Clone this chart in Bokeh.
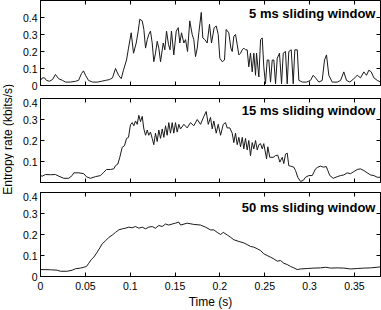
from math import pi
from bokeh.plotting import figure
from bokeh.layouts import row, column
from bokeh.models import Range1d, LinearAxis, FixedTicker, CustomJSTickFormatter, Label
from bokeh.embed import file_html
from bokeh.resources import INLINE

# ---- data ----
t1 = [0, 0.0022, 0.0045, 0.0067, 0.0100, 0.0134, 0.0167, 0.0201, 0.0245, 0.0279,
      0.0334, 0.0390, 0.0424, 0.0457, 0.0479, 0.0502, 0.0535, 0.0580, 0.0635, 0.0680,
      0.0725, 0.0769, 0.0803, 0.0836, 0.0870, 0.0900, 0.0925, 0.0959, 0.0981, 0.1011,
      0.1037, 0.1067, 0.1089, 0.1107, 0.1134, 0.1152, 0.1171, 0.1190, 0.1207, 0.1226,
      0.1245, 0.1263, 0.1282, 0.1301, 0.1319, 0.1338, 0.1368, 0.1386, 0.1405, 0.1427,
      0.1444, 0.1460, 0.1486, 0.1513, 0.1535, 0.1553, 0.1572, 0.1598, 0.1617, 0.1639,
      0.1664, 0.1691, 0.1709, 0.1728, 0.1747, 0.1765, 0.1792, 0.1809, 0.1832, 0.1858,
      0.1884, 0.1906, 0.1936, 0.1959, 0.1981, 0.1999, 0.2026, 0.2051, 0.2070, 0.2099,
      0.2122, 0.2137, 0.2155, 0.2174, 0.2193, 0.2211, 0.2230, 0.2249, 0.2266, 0.2285,
      0.2304, 0.2322, 0.2341, 0.2360, 0.2378, 0.2397, 0.2408, 0.2434, 0.2453, 0.2472,
      0.2489, 0.2508, 0.2527, 0.2545, 0.2564, 0.2583, 0.2601, 0.2620, 0.2639, 0.2664,
      0.2687, 0.2706, 0.2731, 0.2750, 0.2768, 0.2795, 0.2817, 0.2835, 0.2862, 0.2880,
      0.2921, 0.2965, 0.3010, 0.3040, 0.3066, 0.3103, 0.3140, 0.3166, 0.3188, 0.3214,
      0.3252, 0.3308, 0.3345, 0.3381, 0.3411, 0.3448, 0.3493, 0.3531, 0.3567, 0.3604,
      0.3634, 0.3660, 0.3687, 0.3716, 0.3754, 0.3790]
v1 = [0.03, 0.045, 0.045, 0.03, 0.025, 0.035, 0.065, 0.04, 0.03, 0.02,
      0.02, 0.025, 0.03, 0.07, 0.086, 0.06, 0.03, 0.02, 0.02, 0.025,
      0.03, 0.035, 0.045, 0.10, 0.06, 0.04, 0.09, 0.15, 0.22, 0.31,
      0.19, 0.25, 0.32, 0.39, 0.38, 0.33, 0.22, 0.27, 0.30, 0.32,
      0.25, 0.14, 0.19, 0.26, 0.22, 0.14, 0.25, 0.21, 0.32, 0.24,
      0.21, 0.32, 0.18, 0.32, 0.34, 0.25, 0.31, 0.25, 0.27, 0.20,
      0.38, 0.30, 0.27, 0.17, 0.22, 0.31, 0.43, 0.28, 0.27, 0.25,
      0.36, 0.25, 0.34, 0.35, 0.30, 0.16, 0.14, 0.15, 0.33, 0.31,
      0.22, 0.20, 0.29, 0.30, 0.24, 0.18, 0.19, 0.21, 0.22, 0.21,
      0.21, 0.11, 0.19, 0.08, 0.19, 0.06, 0.19, 0.05, 0.27, 0.28,
      0.11, 0.01, 0.15, 0.15, 0.02, 0.15, 0.15, 0.01, 0.16, 0.19,
      0.01, 0.19, 0.20, 0.01, 0.20, 0.21, 0.01, 0.21, 0.21, 0.03,
      0.02, 0.02, 0.03, 0.06, 0.045, 0.02, 0.03, 0.15, 0.18, 0.06,
      0.02, 0.02, 0.03, 0.08, 0.03, 0.02, 0.04, 0.06, 0.045, 0.08,
      0.06, 0.09, 0.08, 0.045, 0.03, 0.02]

t2 = [0, 0.0019, 0.0056, 0.0111, 0.0167, 0.0204, 0.0260, 0.0315, 0.0353, 0.0371,
      0.0427, 0.0483, 0.0513, 0.0557, 0.0613, 0.0669, 0.0706, 0.0736, 0.0780, 0.0817,
      0.0836, 0.0862, 0.0884, 0.0911, 0.0936, 0.0959, 0.0981, 0.1003, 0.1022, 0.1040,
      0.1059, 0.1078, 0.1096, 0.1115, 0.1134, 0.1152, 0.1171, 0.1190, 0.1207, 0.1226,
      0.1245, 0.1263, 0.1282, 0.1301, 0.1319, 0.1338, 0.1357, 0.1375, 0.1394, 0.1412,
      0.1430, 0.1449, 0.1468, 0.1486, 0.1505, 0.1524, 0.1542, 0.1561, 0.1598, 0.1635,
      0.1672, 0.1709, 0.1747, 0.1784, 0.1821, 0.1847, 0.1870, 0.1895, 0.1914, 0.1932,
      0.1959, 0.1981, 0.2007, 0.2037, 0.2062, 0.2081, 0.2110, 0.2137, 0.2155, 0.2174,
      0.2193, 0.2211, 0.2230, 0.2249, 0.2266, 0.2285, 0.2304, 0.2322, 0.2341, 0.2360,
      0.2378, 0.2397, 0.2416, 0.2434, 0.2453, 0.2472, 0.2489, 0.2520, 0.2534, 0.2556,
      0.2594, 0.2620, 0.2645, 0.2668, 0.2695, 0.2712, 0.2731, 0.2750, 0.2768, 0.2787,
      0.2824, 0.2843, 0.2868, 0.2899, 0.2929, 0.2954, 0.2991, 0.3029, 0.3066, 0.3091,
      0.3122, 0.3152, 0.3185, 0.3203, 0.3225, 0.3263, 0.3308, 0.3345, 0.3381, 0.3419,
      0.3456, 0.3493, 0.3531, 0.3567, 0.3604, 0.3642, 0.3679, 0.3716, 0.3754, 0.3790]
v2 = [0.033, 0.03, 0.038, 0.037, 0.038, 0.03, 0.02, 0.02, 0.033, 0.046,
      0.046, 0.042, 0.027, 0.02, 0.028, 0.033, 0.049, 0.062, 0.062, 0.065,
      0.08, 0.088, 0.12, 0.168, 0.175, 0.21, 0.215, 0.275, 0.285, 0.27,
      0.293, 0.277, 0.32, 0.29, 0.315, 0.255, 0.225, 0.25, 0.225, 0.24,
      0.21, 0.18, 0.235, 0.195, 0.25, 0.21, 0.255, 0.215, 0.27, 0.225,
      0.285, 0.235, 0.285, 0.235, 0.285, 0.24, 0.277, 0.255, 0.277, 0.26,
      0.285, 0.27, 0.30, 0.277, 0.315, 0.338, 0.277, 0.31, 0.255, 0.293,
      0.235, 0.277, 0.225, 0.277, 0.285, 0.26, 0.26, 0.235, 0.19, 0.235,
      0.18, 0.215, 0.17, 0.215, 0.16, 0.21, 0.155, 0.20, 0.128, 0.19,
      0.16, 0.20, 0.155, 0.18, 0.185, 0.16, 0.185, 0.113, 0.17, 0.12,
      0.12, 0.128, 0.13, 0.097, 0.12, 0.09, 0.135, 0.14, 0.08, 0.078,
      0.073, 0.057, 0.025, 0.005, 0.01, 0.025, 0.033, 0.033, 0.065, 0.073,
      0.078, 0.073, 0.076, 0.057, 0.033, 0.02, 0.028, 0.033, 0.036, 0.046,
      0.042, 0.052, 0.062, 0.065, 0.057, 0.046, 0.036, 0.033, 0.025, 0.025]

t3 = [0, 0.0111, 0.0186, 0.0223, 0.0298, 0.0353, 0.0390, 0.0446, 0.0483, 0.0513,
      0.0538, 0.0565, 0.0594, 0.0632, 0.0661, 0.0688, 0.0725, 0.0761, 0.0799, 0.0836,
      0.0873, 0.0911, 0.0948, 0.0984, 0.1022, 0.1059, 0.1096, 0.1134, 0.1171, 0.1207,
      0.1245, 0.1282, 0.1319, 0.1357, 0.1394, 0.1430, 0.1468, 0.1505, 0.1542, 0.1561,
      0.1635, 0.1709, 0.1784, 0.1839, 0.1895, 0.1932, 0.1970, 0.2007, 0.2037, 0.2081,
      0.2118, 0.2155, 0.2211, 0.2266, 0.2304, 0.2341, 0.2378, 0.2416, 0.2453, 0.2489,
      0.2527, 0.2564, 0.2601, 0.2639, 0.2676, 0.2712, 0.2750, 0.2787, 0.2824, 0.2862,
      0.2899, 0.2973, 0.3047, 0.3122, 0.3177, 0.3233, 0.3308, 0.3381, 0.3456, 0.3531,
      0.3604, 0.3679, 0.3754, 0.3790]
v3 = [0.033, 0.032, 0.03, 0.025, 0.025, 0.03, 0.037, 0.04, 0.044, 0.048,
      0.063, 0.08, 0.092, 0.116, 0.136, 0.156, 0.17, 0.186, 0.197, 0.21,
      0.222, 0.227, 0.23, 0.235, 0.232, 0.238, 0.23, 0.235, 0.227, 0.235,
      0.238, 0.23, 0.243, 0.238, 0.25, 0.245, 0.25, 0.254, 0.259, 0.245,
      0.254, 0.248, 0.245, 0.235, 0.222, 0.222, 0.21, 0.2, 0.21, 0.198,
      0.187, 0.175, 0.167, 0.16, 0.152, 0.143, 0.14, 0.132, 0.124, 0.108,
      0.1, 0.092, 0.084, 0.073, 0.076, 0.063, 0.057, 0.048, 0.041, 0.033,
      0.036, 0.038, 0.04, 0.041, 0.044, 0.04, 0.041, 0.04, 0.036, 0.038,
      0.04, 0.041, 0.044, 0.046]

titles = ["5 ms sliding window", "15 ms sliding window", "50 ms sliding window"]
x_ticks = [0, 0.05, 0.1, 0.15, 0.2, 0.25, 0.3, 0.35]
y_ticks_1 = [0, 0.1, 0.2, 0.3, 0.4]
y_ticks_2 = [0.1, 0.2, 0.3, 0.4]
y_ticks_3 = [0, 0.1, 0.2, 0.3, 0.4]
y_tops = [0.5, 0.4, 0.4]
x_end = 0.379
x_label = "Time (s)"
y_label = "Entropy rate (kbits/s)"

FONT = "Liberation Sans"
fmt_code = "return String(Number(tick.toFixed(3)));"

xr = Range1d(0, x_end)


def style_axis(ax, ticks, show_labels):
    ax.ticker = FixedTicker(ticks=ticks)
    ax.formatter = CustomJSTickFormatter(code=fmt_code)
    ax.major_tick_in = 4
    ax.major_tick_out = 0
    ax.minor_tick_line_color = None
    ax.axis_line_color = "black"
    ax.major_tick_line_color = "black"
    ax.major_label_text_font = FONT
    if show_labels:
        ax.major_label_text_color = "black"
        ax.major_label_text_font_size = "10.5px"
        ax.major_label_standoff = 3
    else:
        ax.major_label_text_color = None
        ax.major_label_text_font_size = "1px"
        ax.major_label_standoff = 0


def make_panel(t, v, yticks, ytop, title, frame_h, bottom_border, last, title_y):
    p = figure(frame_width=340, frame_height=frame_h, x_range=xr,
               y_range=Range1d(0, ytop), min_border_left=26, min_border_right=1,
               min_border_top=0, min_border_bottom=bottom_border,
               toolbar_location=None, output_backend="svg")
    p.grid.visible = False
    p.outline_line_color = "black"
    p.outline_line_alpha = 1
    p.background_fill_color = "white"
    p.border_fill_color = "white"
    bottom = p.xaxis[0]
    left = p.yaxis[0]
    style_axis(bottom, x_ticks, last)
    style_axis(left, yticks, True)
    top = LinearAxis()
    style_axis(top, x_ticks, False)
    p.add_layout(top, "above")
    right = LinearAxis()
    style_axis(right, yticks, False)
    p.add_layout(right, "right")
    if last:
        bottom.major_label_standoff = 5
        bottom.axis_label = x_label
        bottom.axis_label_text_font = FONT
        bottom.axis_label_text_font_size = "12px"
        bottom.axis_label_text_font_style = "normal"
        bottom.axis_label_text_color = "black"
        bottom.axis_label_standoff = 2
    p.line(t, v, line_color="#1a1a1a", line_width=1)
    p.add_layout(Label(x=x_end - 0.0056, y=title_y, text=title, text_align="right",
                       text_baseline="top", text_font=FONT, text_font_style="bold",
                       text_font_size="13px", text_color="black"))
    return p


p1 = make_panel(t1, v1, y_ticks_1, y_tops[0], titles[0], 85, 13, False, 0.468)
p2 = make_panel(t2, v2, y_ticks_2, y_tops[1], titles[1], 84, 10, False, 0.379)
p3 = make_panel(t3, v3, y_ticks_3, y_tops[2], titles[2], 84, 34, True, 0.366)

lab = figure(width=14, height=310, x_range=Range1d(0, 1), y_range=Range1d(0, 1),
             min_border=0, toolbar_location=None, output_backend="svg")
lab.axis.visible = False
lab.grid.visible = False
lab.outline_line_color = None
lab.add_layout(Label(x=0.5, y=0.552, text=y_label, angle=pi / 2, text_align="center",
                     text_baseline="middle", text_font=FONT, text_font_size="12px",
                     text_color="black"))

layout = row(lab, column(p1, p2, p3, spacing=0), spacing=0)

open("out.html", "w").write(file_html(layout, INLINE))
